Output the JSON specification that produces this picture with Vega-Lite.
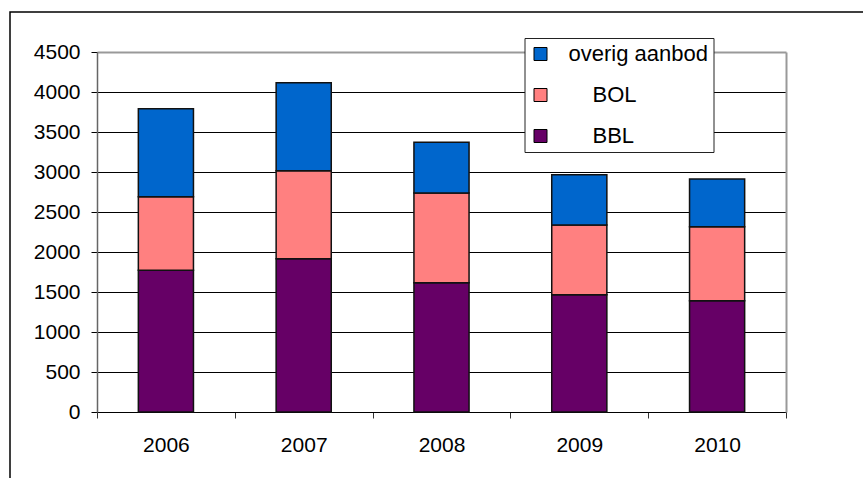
{
  "$schema": "https://vega.github.io/schema/vega-lite/v6.json",
  "width": 863,
  "height": 478,
  "autosize": {"type": "fit", "contains": "padding"},
  "padding": {"left": 10, "top": 12, "right": -5, "bottom": -5},
  "background": "white",
  "view": {"stroke": "#000", "strokeWidth": 1.5, "fill": "white"},
  "data": {
    "values": [
      {"year": "2006", "type": "BBL", "value": 1771},
      {"year": "2006", "type": "BOL", "value": 921},
      {"year": "2006", "type": "overig aanbod", "value": 1100},
      {"year": "2007", "type": "BBL", "value": 1917},
      {"year": "2007", "type": "BOL", "value": 1100},
      {"year": "2007", "type": "overig aanbod", "value": 1100},
      {"year": "2008", "type": "BBL", "value": 1617},
      {"year": "2008", "type": "BOL", "value": 1120},
      {"year": "2008", "type": "overig aanbod", "value": 634},
      {"year": "2009", "type": "BBL", "value": 1467},
      {"year": "2009", "type": "BOL", "value": 870},
      {"year": "2009", "type": "overig aanbod", "value": 630},
      {"year": "2010", "type": "BBL", "value": 1392},
      {"year": "2010", "type": "BOL", "value": 925},
      {"year": "2010", "type": "overig aanbod", "value": 595}
    ]
  },
  "encoding": {
    "x": {
      "field": "year",
      "type": "ordinal",
      "scale": {"range": [87, 776], "paddingInner": 0, "paddingOuter": 0},
      "axis": {
        "title": null,
        "orient": "bottom",
        "offset": -71,
        "labelAngle": 0,
        "labelFont": "Liberation Sans",
        "labelFontSize": 21,
        "labelColor": "#000",
        "labelPadding": 16,
        "tickBand": "extent",
        "tickSize": 6,
        "tickColor": "#333",
        "domainColor": "#000",
        "domainWidth": 1,
        "grid": false
      }
    }
  },
  "layer": [
    {
      "mark": {"type": "bar", "width": {"band": 0.4}, "stroke": "#111", "strokeWidth": 1.5},
      "encoding": {
        "y": {
          "field": "value",
          "type": "quantitative",
          "stack": "zero",
          "scale": {"domain": [0, 4500], "range": [400, 40], "nice": false},
          "axis": {
            "title": null,
            "orient": "left",
            "offset": -87,
            "values": [0, 500, 1000, 1500, 2000, 2500, 3000, 3500, 4000, 4500],
            "format": "d",
            "labelFont": "Liberation Sans",
            "labelFontSize": 21,
            "labelColor": "#000",
            "labelPadding": 11,
            "tickSize": 6,
            "tickColor": "#000",
            "domainColor": "#666",
            "domainWidth": 1.5,
            "grid": true,
            "gridColor": {"condition": {"test": "datum.value === 4500", "value": "#999"}, "value": "#000"},
            "gridWidth": {"condition": {"test": "datum.value === 4500", "value": 2}, "value": 1}
          }
        },
        "color": {
          "field": "type",
          "type": "nominal",
          "scale": {
            "domain": ["overig aanbod", "BOL", "BBL"],
            "range": ["#0066CC", "#FF8080", "#660066"]
          },
          "legend": {
            "orient": "none",
            "legendX": 514.5,
            "legendY": 26,
            "title": null,
            "symbolType": "square",
            "symbolSize": 169,
            "symbolStrokeColor": "#000",
            "symbolStrokeWidth": 1,
            "symbolOpacity": 1,
            "labelFont": "Liberation Sans",
            "labelFontSize": 22,
            "labelColor": "#000",
            "labelOffset": 17,
            "rowPadding": 19,
            "padding": 5,
            "strokeColor": "#222",
            "fillColor": "white",
            "encode": {
              "labels": {
                "update": {
                  "dx": {"signal": "datum.value === 'overig aanbod' ? 0 : 24"}
                }
              }
            }
          }
        },
        "order": {"field": "type", "sort": "ascending"}
      }
    },
    {
      "mark": {"type": "bar", "width": {"band": 0.4}, "opacity": 0},
      "encoding": {
        "y": {
          "field": "value",
          "type": "quantitative",
          "stack": "zero",
          "scale": {"domain": [0, 4500], "range": [400, 40], "nice": false},
          "axis": {
            "title": null,
            "orient": "right",
            "offset": -82,
            "labels": false,
            "ticks": false,
            "grid": false,
            "domainColor": "#999",
            "domainWidth": 2
          }
        }
      }
    }
  ],
  "resolve": {"axis": {"y": "independent"}}
}
